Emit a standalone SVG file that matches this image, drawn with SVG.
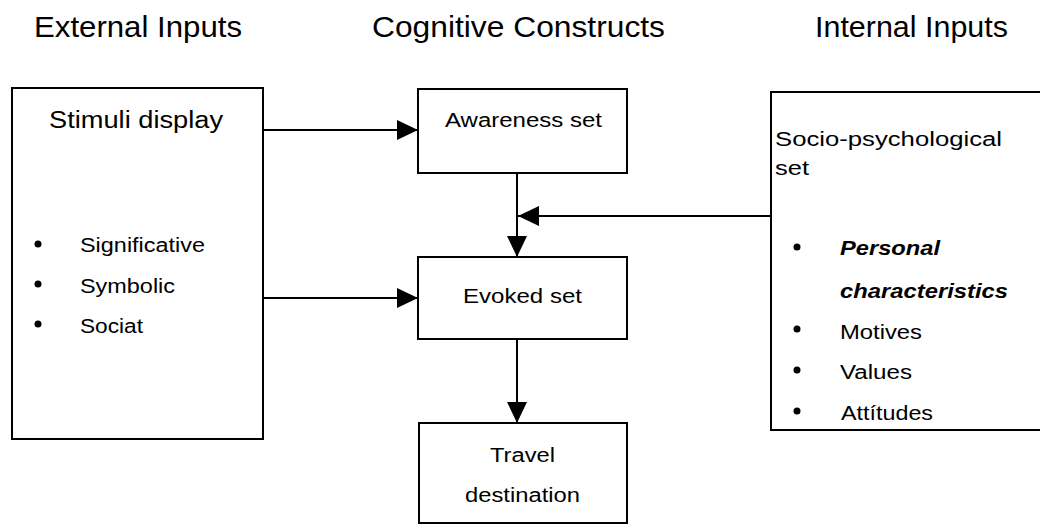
<svg xmlns="http://www.w3.org/2000/svg" width="1040" height="525" viewBox="0 0 1040 525">
  <defs>
    <style>
      .box { fill: #fff; stroke: #000; stroke-width: 2; }
      .link { fill: none; stroke: #000; stroke-width: 2; }
      .title { font-family: "Liberation Sans", Arial, sans-serif; font-size: 29px; fill: #000; }
      .head { font-family: "Liberation Sans", Arial, sans-serif; font-size: 23px; fill: #000; }
      .lbl { font-family: "Liberation Sans", Arial, sans-serif; font-size: 19.5px; fill: #000; }
      .em { font-weight: bold; font-style: italic; }
      .dot { fill: #000; }
    </style>
    <marker id="arrow" markerUnits="userSpaceOnUse" markerWidth="22" markerHeight="22" viewBox="0 0 22 22" refX="21" refY="11" orient="auto">
      <path d="M0,1 L21,11 L0,21 Z" fill="#000"/>
    </marker>
  </defs>

  <rect width="1040" height="525" fill="#fff"/>

  <!-- column headings -->
  <g id="headings">
    <text class="title" x="34" y="37" textLength="208" lengthAdjust="spacingAndGlyphs">External Inputs</text>
    <text class="title" x="372" y="37" textLength="293" lengthAdjust="spacingAndGlyphs">Cognitive Constructs</text>
    <text class="title" x="815" y="37" textLength="193" lengthAdjust="spacingAndGlyphs">Internal Inputs</text>
  </g>

  <!-- connectors -->
  <g id="connectors">
    <line class="link" x1="263" y1="130" x2="418" y2="130" marker-end="url(#arrow)"/>
    <line class="link" x1="263" y1="298" x2="418" y2="298" marker-end="url(#arrow)"/>
    <line class="link" x1="517" y1="173" x2="517" y2="257" marker-end="url(#arrow)"/>
    <line class="link" x1="771" y1="216" x2="518" y2="216" marker-end="url(#arrow)"/>
    <line class="link" x1="517" y1="339" x2="517" y2="423" marker-end="url(#arrow)"/>
  </g>

  <!-- external inputs -->
  <g id="stimuli-display">
    <rect class="box" x="12" y="88" width="251" height="351"/>
    <text class="head" x="49" y="128" textLength="174" lengthAdjust="spacingAndGlyphs">Stimuli display</text>
    <circle class="dot" cx="38" cy="244" r="3.5"/>
    <text class="lbl" x="80" y="252" textLength="125" lengthAdjust="spacingAndGlyphs">Significative</text>
    <circle class="dot" cx="38" cy="284" r="3.5"/>
    <text class="lbl" x="80" y="293" textLength="95" lengthAdjust="spacingAndGlyphs">Symbolic</text>
    <circle class="dot" cx="38" cy="324" r="3.5"/>
    <text class="lbl" x="80" y="333" textLength="63" lengthAdjust="spacingAndGlyphs">Sociat</text>
  </g>

  <!-- cognitive constructs -->
  <g id="awareness-set">
    <rect class="box" x="418" y="89" width="209" height="84"/>
    <text class="lbl" x="445" y="127" textLength="157" lengthAdjust="spacingAndGlyphs">Awareness set</text>
  </g>

  <g id="evoked-set">
    <rect class="box" x="418" y="257" width="209" height="82"/>
    <text class="lbl" x="463" y="303" textLength="119" lengthAdjust="spacingAndGlyphs">Evoked set</text>
  </g>

  <g id="travel-destination">
    <rect class="box" x="419" y="423" width="208" height="100"/>
    <text class="lbl" x="490" y="462" textLength="65" lengthAdjust="spacingAndGlyphs">Travel</text>
    <text class="lbl" x="465" y="502" textLength="115" lengthAdjust="spacingAndGlyphs">destination</text>
  </g>

  <!-- internal inputs -->
  <g id="socio-psychological-set">
    <rect class="box" x="771" y="92" width="300" height="338"/>
    <text class="lbl" x="775" y="146" textLength="227" lengthAdjust="spacingAndGlyphs">Socio-psychological</text>
    <text class="lbl" x="775" y="175" textLength="34" lengthAdjust="spacingAndGlyphs">set</text>
    <circle class="dot" cx="797" cy="247" r="3.5"/>
    <text class="lbl em" x="840" y="255" textLength="100" lengthAdjust="spacingAndGlyphs">Personal</text>
    <text class="lbl em" x="840" y="298" textLength="168" lengthAdjust="spacingAndGlyphs">characteristics</text>
    <circle class="dot" cx="797" cy="329" r="3.5"/>
    <text class="lbl" x="840" y="339" textLength="82" lengthAdjust="spacingAndGlyphs">Motives</text>
    <circle class="dot" cx="797" cy="370" r="3.5"/>
    <text class="lbl" x="840" y="379" textLength="72" lengthAdjust="spacingAndGlyphs">Values</text>
    <circle class="dot" cx="797" cy="411" r="3.5"/>
    <text class="lbl" x="841" y="420" textLength="92" lengthAdjust="spacingAndGlyphs">Attítudes</text>
  </g>
</svg>
